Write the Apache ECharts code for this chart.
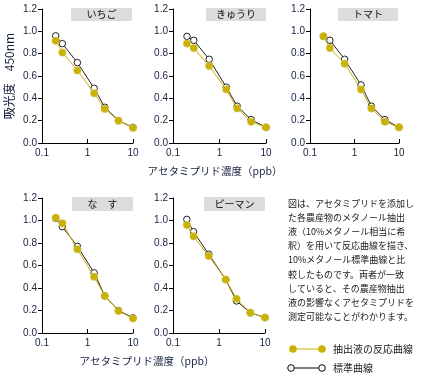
<!DOCTYPE html>
<html><head><meta charset="utf-8">
<script src="https://cdn.jsdelivr.net/npm/echarts@6/dist/echarts.min.js"></script>
<style>html,body{margin:0;padding:0;background:#fff}#c{width:421px;height:378px}</style>
</head><body><div id="c"></div>
<script>
// ---- data ----
const xVals = [0.2, 0.28, 0.6, 1.4, 2.4, 4.8, 10];
const panelNames = ['いちご', 'きゅうり', 'トマト', 'な　す', 'ピーマン'];
const stdStrawberry = [0.96, 0.89, 0.72, 0.49, 0.32, 0.20, 0.14];
const extStrawberry = [0.915, 0.81, 0.65, 0.445, 0.305, 0.20, 0.135];
const stdCucumber = [0.955, 0.92, 0.75, 0.50, 0.33, 0.21, 0.14];
const extCucumber = [0.89, 0.85, 0.69, 0.48, 0.31, 0.19, 0.14];
const stdTomato = [0.955, 0.92, 0.75, 0.52, 0.33, 0.21, 0.14];
const extTomato = [0.955, 0.85, 0.71, 0.48, 0.31, 0.19, 0.14];
const stdEggplant = [1.02, 0.945, 0.77, 0.535, 0.33, 0.20, 0.135];
const extEggplant = [1.025, 0.975, 0.745, 0.50, 0.33, 0.195, 0.13];
const stdPepper = [1.01, 0.90, 0.70, 0.475, 0.285, 0.18, 0.137];
const extPepper = [0.96, 0.86, 0.685, 0.475, 0.305, 0.18, 0.137];
const yTicks = ['0.0', '0.2', '0.4', '0.6', '0.8', '1.0', '1.2'];
const xTickLabels = ['0.1', '1', '10'];
const xAxisTitle = 'アセタミプリド濃度（ppb）';
const yAxisTitle = '吸光度　450nm';
const seriesNames = ['標準曲線', '抽出液の反応曲線'];
const noteLines = [
  '図は、アセタミプリドを添加し',
  'た各農産物のメタノール抽出',
  '液（10%メタノール相当に希',
  '釈）を用いて反応曲線を描き、',
  '10%メタノール標準曲線と比',
  '較したものです。両者が一致',
  'していると、その農産物抽出',
  '液の影響なくアセタミプリドを',
  '測定可能なことがわかります。'
];

const stdSets = [stdStrawberry, stdCucumber, stdTomato, stdEggplant, stdPepper];
const extSets = [extStrawberry, extCucumber, extTomato, extEggplant, extPepper];

// ---- layout ----
const grids = [
  {left: 42, top: 9, width: 91, height: 134},
  {left: 173, top: 9, width: 93, height: 134},
  {left: 310, top: 9, width: 89, height: 134},
  {left: 42, top: 198, width: 91, height: 135},
  {left: 173, top: 198, width: 92, height: 135}
];
const titleBoxes = [
  {x: 71, y: 8, w: 61, h: 13},
  {x: 206, y: 8, w: 60, h: 13},
  {x: 338, y: 8, w: 60, h: 13},
  {x: 72, y: 197, w: 61, h: 14},
  {x: 204, y: 197, w: 61, h: 14}
];
const YELLOW = '#c9b204';
const DARK = '#222222';
const NAVY = '#15223f';
const JP = '"Noto Sans CJK JP", sans-serif';
const LAT = '"Liberation Sans", Arial, sans-serif';

const xAxes = grids.map((g, i) => ({
  type: 'log', logBase: 10, min: 0.1, max: 10, gridIndex: i,
  axisLine: {lineStyle: {color: '#000', width: 1}},
  axisTick: {inside: true, length: 4, lineStyle: {color: '#000'}},
  minorTick: {show: false}, splitLine: {show: false}, minorSplitLine: {show: false},
  axisLabel: {color: NAVY, fontSize: 10, fontFamily: LAT, margin: 5,
    formatter: v => { const s = String(+v.toPrecision(3)); return xTickLabels.includes(s) ? s : ''; }}
}));
const yAxes = grids.map((g, i) => ({
  type: 'value', min: 0, max: 1.2, interval: 0.2, gridIndex: i,
  axisLine: {show: true, lineStyle: {color: '#000', width: 1}},
  axisTick: {show: true, inside: false, length: 4, lineStyle: {color: '#000'}},
  splitLine: {show: false},
  axisLabel: {color: NAVY, fontSize: 10, fontFamily: LAT, margin: 5,
    formatter: v => yTicks[Math.round(v / 0.2)]},
  name: i === 0 ? yAxisTitle : '',
  nameLocation: 'middle', nameRotate: 90, nameGap: 27,
  nameTextStyle: {color: NAVY, fontSize: 12, fontFamily: JP}
}));

const series = [];
grids.forEach((g, i) => {
  series.push({
    name: seriesNames[0], type: 'line', xAxisIndex: i, yAxisIndex: i,
    data: xVals.map((x, j) => [x, stdSets[i][j]]),
    symbol: 'circle', symbolSize: 6.5,
    itemStyle: {color: '#fff', borderColor: DARK, borderWidth: 1},
    lineStyle: {color: DARK, width: 1}, z: 2
  });
  series.push({
    name: seriesNames[1], type: 'line', xAxisIndex: i, yAxisIndex: i,
    data: xVals.map((x, j) => [x, extSets[i][j]]),
    symbol: 'circle', symbolSize: 7.5,
    itemStyle: {color: YELLOW, borderColor: '#d9cc6a', borderWidth: 0.5},
    lineStyle: {color: YELLOW, width: 1}, z: 3
  });
});

const graphic = [];
titleBoxes.forEach((b, i) => {
  graphic.push({type: 'rect', shape: {x: b.x, y: b.y, width: b.w, height: b.h},
    style: {fill: '#dcdcdc'}, silent: true});
  graphic.push({type: 'text', x: b.x + b.w / 2, y: b.y + b.h / 2,
    style: {text: panelNames[i], fill: '#111', font: '10px ' + JP, align: 'center', verticalAlign: 'middle'}});
});
graphic.push({type: 'text', x: 215, y: 171,
  style: {text: xAxisTitle, fill: NAVY, font: '10.5px ' + JP, align: 'center', verticalAlign: 'middle'}});
graphic.push({type: 'text', x: 147, y: 361,
  style: {text: xAxisTitle, fill: NAVY, font: '10.5px ' + JP, align: 'center', verticalAlign: 'middle'}});
graphic.push({type: 'text', x: 288, y: 196,
  style: {text: noteLines.join('\n'), fill: '#1a1a1a', font: '9px ' + JP, lineHeight: 14.2, align: 'left', verticalAlign: 'top'}});
// legend
graphic.push({type: 'line', shape: {x1: 293, y1: 349, x2: 322, y2: 349}, style: {stroke: YELLOW, lineWidth: 1}});
graphic.push({type: 'circle', shape: {cx: 293, cy: 349, r: 3.8}, style: {fill: YELLOW}});
graphic.push({type: 'circle', shape: {cx: 322, cy: 349, r: 3.8}, style: {fill: YELLOW}});
graphic.push({type: 'text', x: 333, y: 349, style: {text: seriesNames[1], fill: '#1a1a1a', font: '10px ' + JP, verticalAlign: 'middle'}});
graphic.push({type: 'line', shape: {x1: 291, y1: 368, x2: 322, y2: 368}, style: {stroke: '#000', lineWidth: 1}});
graphic.push({type: 'circle', shape: {cx: 291, cy: 368, r: 3.3}, style: {fill: '#fff', stroke: '#000', lineWidth: 1}});
graphic.push({type: 'circle', shape: {cx: 322, cy: 368, r: 3.3}, style: {fill: '#fff', stroke: '#000', lineWidth: 1}});
graphic.push({type: 'text', x: 333, y: 368, style: {text: seriesNames[0], fill: '#1a1a1a', font: '10px ' + JP, verticalAlign: 'middle'}});

const chart = echarts.init(document.getElementById('c'), null, {renderer: 'canvas'});
chart.setOption({
  animation: false,
  backgroundColor: '#fff',
  grid: grids.map(g => Object.assign({containLabel: false}, g)),
  xAxis: xAxes, yAxis: yAxes, series, graphic
});
</script></body></html>
